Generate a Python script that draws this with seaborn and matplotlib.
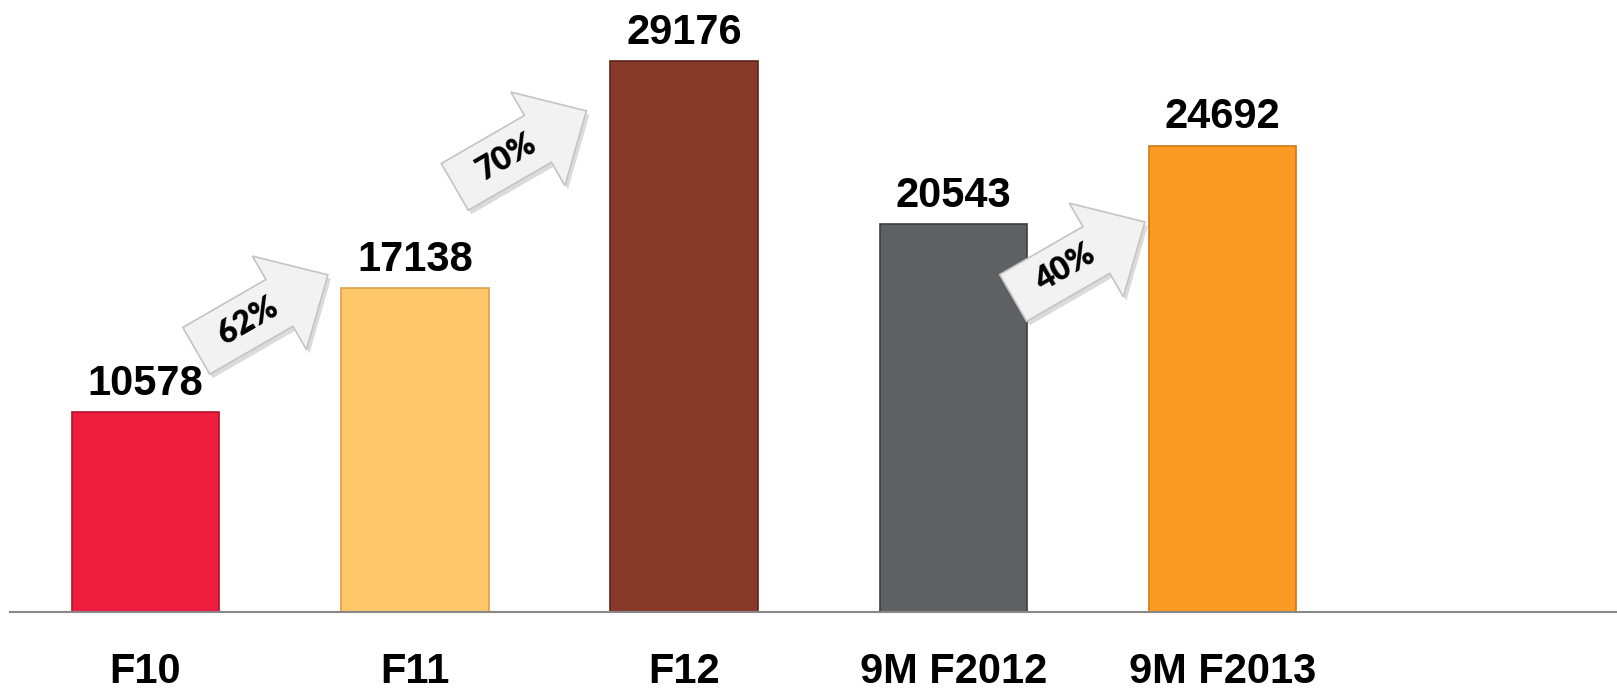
import numpy as np
import pandas as pd
import seaborn as sns
import matplotlib.pyplot as plt
from matplotlib.patches import Polygon
from matplotlib.transforms import Affine2D, ScaledTranslation

# chart data
categories = ["F10", "F11", "F12", "9M F2012", "9M F2013"]
values = [10578, 17138, 29176, 20543, 24692]
bar_colors = ["#EE1E3E", "#FEC76A", "#873A29", "#5F6064", "#FB9B24"]
edge_colors = ["#B0142C", "#D9A24A", "#5E2518", "#3E3F42", "#D07A10"]

# growth arrows: label, position (data x, data y)
growth_labels = ["62%", "70%", "40%"]
arrow_x = [0.433, 1.393, 3.467]
arrow_y = [15840, 24520, 18640]
arrow_angle = 30

sns.set_theme(style="white")
plt.rcParams['font.family'] = ['Liberation Sans', 'DejaVu Sans']

fig = plt.figure(figsize=(16.17, 6.94), dpi=100)
ax = fig.add_axes([0.0064, 0.118, 0.9936, 0.882])

df = pd.DataFrame({"cat": categories, "val": values})
sns.barplot(data=df, x="cat", y="val", hue="cat", palette=bar_colors,
            width=0.548, legend=False, ax=ax, saturation=1)

for patch, ec in zip(ax.patches, edge_colors):
    patch.set_edgecolor(ec)
    patch.set_linewidth(1.2)

for cont in ax.containers:
    ax.bar_label(cont, fmt="%d", padding=6, fontsize=30, fontweight="bold", color="black")

ax.set_xlim(-0.502, 5.465)
ax.set_ylim(0, 32400)
ax.set_xlabel("")
ax.set_ylabel("")
ax.set_yticks([])
ax.set_xticks(range(len(categories)))
ax.set_xticklabels(categories, fontsize=30, fontweight="bold", color="black")
ax.tick_params(axis="x", length=0, pad=29)
for s in ["top", "right", "left"]:
    ax.spines[s].set_visible(False)
ax.spines["bottom"].set_color("#888888")
ax.spines["bottom"].set_linewidth(1.5)
ax.set_zorder(1)

# arrow shape in points (centred between tail and tip)
px = 0.72
L, hl, sw, hw = 152 * px, 56 * px, 54 * px, 108 * px
shape = np.array([
    [-L / 2, -sw / 2], [L / 2 - hl, -sw / 2], [L / 2 - hl, -hw / 2],
    [L / 2, 0], [L / 2 - hl, hw / 2], [L / 2 - hl, sw / 2], [-L / 2, sw / 2]
])

for lab, xa, ya in zip(growth_labels, arrow_x, arrow_y):
    base = Affine2D().rotate_deg(arrow_angle).scale(fig.dpi / 72)
    shadow = Polygon(shape, closed=True, fc="#9a9a9a", ec="none", alpha=0.35,
                     transform=base + ScaledTranslation(xa, ya, ax.transData)
                     + Affine2D().translate(3, -4), zorder=4, clip_on=False)
    ax.add_patch(shadow)
    arr = Polygon(shape, closed=True, fc="#F2F2F2", ec="#C4C4C4", lw=1.2,
                  transform=base + ScaledTranslation(xa, ya, ax.transData),
                  zorder=5, clip_on=False)
    ax.add_patch(arr)
    ang = np.deg2rad(arrow_angle)
    off = -16
    ax.annotate(lab, xy=(xa, ya), xytext=(off * np.cos(ang) * px, off * np.sin(ang) * px),
                textcoords="offset points", ha="center", va="center",
                rotation=arrow_angle, fontsize=23, fontweight="heavy", color="black",
                family=["Lato", "DejaVu Sans"], zorder=6)

fig.savefig("out.png", dpi=100)
